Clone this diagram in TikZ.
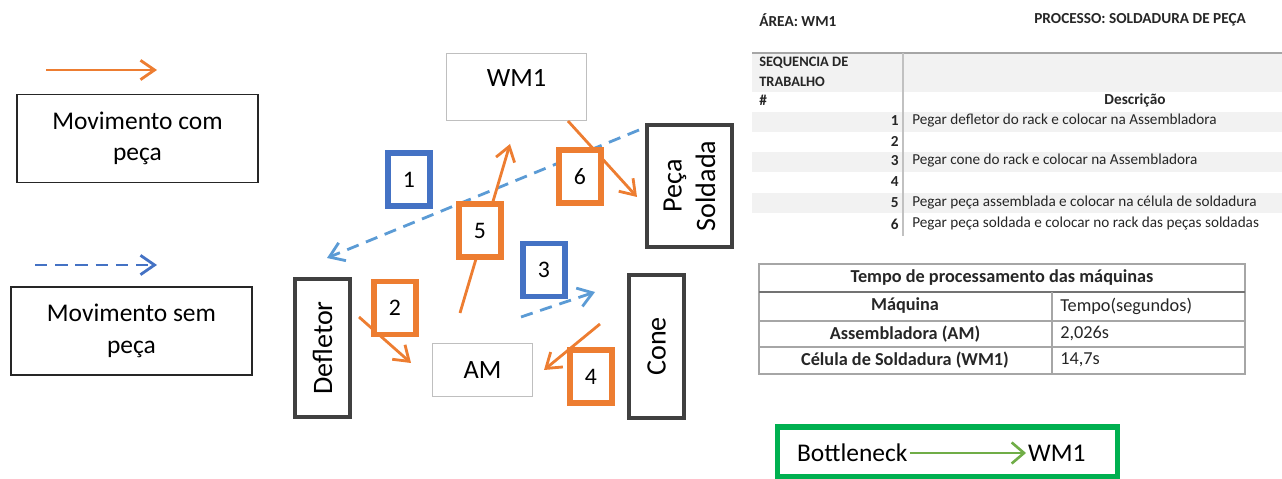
\documentclass[tikz,border=0pt]{standalone}
\usepackage{fontspec}
\setmainfont{Carlito}
\usetikzlibrary{arrows.meta,positioning}
\definecolor{orangeA}{HTML}{ED7D31}
\definecolor{blueA}{HTML}{4472C4}
\definecolor{blueL}{HTML}{5B9BD5}
\definecolor{greenB}{HTML}{00B050}
\definecolor{greenA}{HTML}{70AD47}
\definecolor{darkbox}{HTML}{404040}
\definecolor{lightbox}{HTML}{BFBFBF}
\definecolor{rowgray}{HTML}{F2F2F2}
\definecolor{rulegray}{HTML}{A6A6A6}

\begin{document}
\begin{tikzpicture}[
  x=0.02cm, y=-0.02cm,
  comarrow/.style={-{Straight Barb[length=8pt,width=11pt]}, orangeA, line width=1.6pt},
  semarrow/.style={comarrow, blueL, dash pattern=on 7pt off 4.5pt},
  legendbox/.style={rectangle, draw=black!85, line width=0.8pt, minimum width=4.82cm,
    minimum height=1.76cm, align=center, font=\fontsize{14.5}{18}\selectfont},
  station/.style={rectangle, draw=darkbox, line width=2.2pt, minimum height=1.1cm,
    align=center, font=\fontsize{16}{19}\selectfont, rotate=90},
  machine/.style={rectangle, draw=lightbox, line width=0.8pt, font=\fontsize{15}{17}\selectfont},
  stepnum/.style={rectangle, draw=#1, line width=3.3pt, fill=white, minimum width=0.84cm,
    minimum height=1.06cm, font=\fontsize{13.5}{15}\selectfont},
  hdr/.style={font=\fontsize{8.7}{10}\selectfont\bfseries, inner sep=0pt, text=black!85},
  tnum/.style={font=\fontsize{8.7}{10}\selectfont\bfseries, inner sep=0pt, anchor=east, text=black!85},
  tdesc/.style={font=\fontsize{8.65}{10}\selectfont, inner sep=0pt, anchor=west, text=black!85},
  tcell/.style={font=\fontsize{10.4}{12}\selectfont, inner sep=0pt, text=black!85}
]
\useasboundingbox (0,0) rectangle (1282,479);

% Legend
\coordinate (lgc1) at (46,70);
\coordinate (lgc2) at (157,70);
\draw[comarrow] (lgc1) -- (lgc2);
\node[legendbox] (lgcom) at (137.5,138.5) {Movimento com\\peça};
\coordinate (lgs1) at (35,265);
\coordinate (lgs2) at (157,265);
\draw[semarrow, blueA] (lgs1) -- (lgs2);
\node[legendbox] (lgsem) at (131.5,331) {Movimento sem\\peça};

% Layout of the cell
\node[machine, minimum width=2.8cm, minimum height=1.34cm] (wm1) at (516.5,87) {\raisebox{10pt}{WM1}};
\node[station, minimum width=2.44cm, minimum height=1.7cm] (ps) at (689.5,186) {Peça\\Soldada};
\node[station, minimum width=2.76cm] (def) at (322.5,348) {Defletor};
\node[machine, minimum width=2.0cm, minimum height=1.06cm] (am) at (482.5,370) {AM};
\node[station, minimum width=2.86cm] (cone) at (656.5,346.5) {Cone};

% Movements
\coordinate (m1s) at (639,130);
\coordinate (m1e) at (327,258);
\coordinate (m2s) at (359,317);
\coordinate (m2e) at (411,363);
\coordinate (m3s) at (521,317);
\coordinate (m3e) at (595,292);
\coordinate (m4s) at (600,324);
\coordinate (m4e) at (544,370);
\coordinate (m5s) at (460,313);
\coordinate (m5e) at (510,144);
\coordinate (m6s) at (568,121);
\coordinate (m6e) at (637,197);
\draw[semarrow] (m1s) -- (m1e);
\draw[comarrow] (m2s) -- (m2e);
\draw[semarrow] (m3s) -- (m3e);
\draw[comarrow] (m4s) -- (m4e);
\draw[comarrow] (m5s) -- (m5e);
\draw[comarrow] (m6s) -- (m6e);

% Step numbers
\node[stepnum=blueA] (n1) at (409,179.5) {1};
\node[stepnum=orangeA] (n2) at (395,308) {2};
\node[stepnum=blueA] (n3) at (544,270) {3};
\node[stepnum=orangeA] (n4) at (591,376.5) {4};
\node[stepnum=orangeA] (n5) at (480,230.5) {5};
\node[stepnum=orangeA] (n6) at (580,176.5) {6};

% Work sequence table
\node[hdr, anchor=west] (area) at (759,20) {ÁREA: WM1};
\node[hdr, anchor=west] (proc) at (1034,20) {PROCESSO: SOLDADURA DE PEÇA};
\fill[rowgray] (752,54) rectangle (1282,92);
\fill[rowgray] (752,112) rectangle (1282,132);
\fill[rowgray] (752,152) rectangle (1282,172);
\fill[rowgray] (752,193) rectangle (1282,213);
\draw[rulegray, line width=0.8pt] (752,53) -- (1282,53);
\draw[rulegray!70, line width=0.6pt] (903,53) -- (903,236);
\node[hdr, anchor=north west, align=left, font=\fontsize{8.2}{11}\selectfont\bfseries] (seq) at (759,57) {SEQUENCIA DE\\TRABALHO};
\node[hdr, anchor=west] (hash) at (759,100) {\#};
\node[hdr] (desc) at (1135,100) {Descrição};
\node[tnum] (r1) at (899,121) {1};
\node[tnum] (r2) at (899,141) {2};
\node[tnum] (r3) at (899,161) {3};
\node[tnum] (r4) at (899,182) {4};
\node[tnum] (r5) at (899,203) {5};
\node[tnum] (r6) at (899,224) {6};
\node[tdesc] (d1) at (912,121) {Pegar defletor do rack e colocar na Assembladora};
\node[tdesc] (d3) at (912,161) {Pegar cone do rack e colocar na Assembladora};
\node[tdesc] (d5) at (912,203) {Pegar peça assemblada e colocar na célula de soldadura};
\node[tdesc] (d6) at (912,224) {Pegar peça soldada e colocar no rack das peças soldadas};

% Processing time table
\draw[rulegray, line width=0.8pt] (759,264) rectangle (1245,374);
\draw[black!55, line width=1.4pt] (759,292) -- (1245,292);
\draw[rulegray, line width=0.8pt] (759,321) -- (1245,321);
\draw[rulegray, line width=0.8pt] (759,347) -- (1245,347);
\draw[rulegray, line width=0.8pt] (1052,292) -- (1052,374);
\node[tcell, font=\fontsize{10.4}{12}\selectfont\bfseries] (ttl) at (1002,278) {Tempo de processamento das máquinas};
\node[tcell, font=\fontsize{10.4}{12}\selectfont\bfseries] (hm) at (905,306) {Máquina};
\node[tcell, anchor=west] (ht) at (1060,306) {Tempo(segundos)};
\node[tcell, font=\fontsize{10.4}{12}\selectfont\bfseries] (am1) at (905,334) {Assembladora (AM)};
\node[tcell, anchor=west] (am2) at (1060,334) {2,026s};
\node[tcell, font=\fontsize{10.4}{12}\selectfont\bfseries] (wm2) at (905,360) {Célula de Soldadura (WM1)};
\node[tcell, anchor=west] (wm3) at (1060,360) {14,7s};

% Bottleneck
\node[rectangle, draw=greenB, line width=3pt, minimum width=6.8cm, minimum height=1.0cm] (bneck) at (947.5,452) {};
\node[font=\fontsize{14.5}{16}\selectfont, inner sep=1pt, anchor=west] (bnl) at (795,453) {Bottleneck};
\node[font=\fontsize{14.5}{16}\selectfont, inner sep=1pt, anchor=west] (bnr) at (1026,453) {WM1};
\draw[-{Straight Barb[length=7pt,width=12pt]}, greenA, line width=1.5pt] (bnl.east) -- (bnr.west);

\end{tikzpicture}
\end{document}
